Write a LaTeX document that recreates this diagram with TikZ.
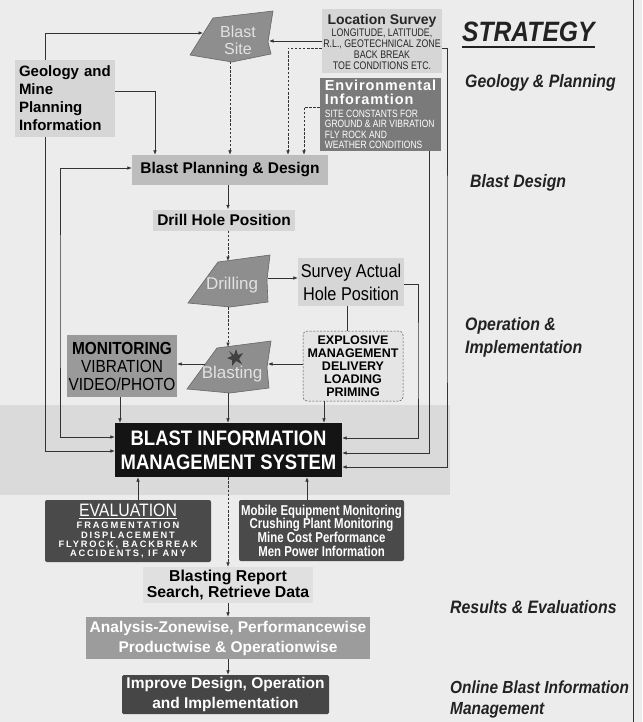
\documentclass[tikz,border=0pt]{standalone}
\usepackage{fontspec}
\setmainfont{Liberation Sans}
\newfontfamily\cond[FakeStretch=0.88]{Liberation Sans}
\newfontfamily\condn[FakeStretch=0.8]{Liberation Sans}
\newfontfamily\wsp[LetterSpace=20]{Liberation Sans}
\newfontfamily\wspb[LetterSpace=6]{Liberation Sans}
\usetikzlibrary{arrows.meta}
\newcommand\fsz[2]{\fontsize{#1}{#2}\selectfont}
\definecolor{page}{HTML}{ECECEC}
\definecolor{band}{HTML}{DADADA}
\definecolor{lncol}{HTML}{333333}
\definecolor{polyfill}{HTML}{8E8E8E}
\definecolor{polyedge}{HTML}{666666}
\definecolor{polytext}{HTML}{E2E2E2}
\definecolor{lightbox}{HTML}{D6D6D6}
\definecolor{midbox}{HTML}{BDBDBD}
\definecolor{envbox}{HTML}{7A7A7A}
\definecolor{monbox}{HTML}{9A9A9A}
\definecolor{darkbox}{HTML}{4A4A4A}
\definecolor{anabox}{HTML}{9C9C9C}
\definecolor{impbox}{HTML}{464646}
\definecolor{bimsbox}{HTML}{141414}
\definecolor{rtext}{HTML}{222222}
\newcommand\lsl[1]{{\condn\fsz{11}{11}#1}}
\newcommand\enl[1]{{\condn\fsz{10.6}{10.4}#1}}
\newcommand\ent[1]{{\wspb\bfseries\fsz{14.5}{12}#1}}
\newcommand\evl[1]{{\wsp\bfseries\fsz{9.3}{9.2}#1}}
\begin{document}
\begin{tikzpicture}[x=1pt,y=-1pt,
  box/.style={rectangle,inner sep=0pt,align=center},
  conn/.style={draw=lncol,line width=0.7pt},
  arr/.style={conn,-{Latex[length=4.5pt,width=3.6pt]}},
  arrb/.style={conn,{Latex[length=4.5pt,width=3.6pt]}-{Latex[length=4.5pt,width=3.6pt]}},
  darr/.style={arr,dash pattern=on 2.5pt off 1.6pt},
  poly/.style={fill=polyfill,draw=polyedge,line width=0.6pt},
  ghost/.style={rectangle,inner sep=0pt},
  rlab/.style={anchor=base west,inner sep=0pt,text=rtext,font=\cond\bfseries\itshape\fsz{18}{24}}]

\useasboundingbox (0,0) rectangle (642,722);
\fill[page] (0,0) rectangle (642,722);
\fill[band] (0,405) rectangle (450,495);
\draw[line width=1pt,lncol] (633,0) -- (633,722);

% polygons
\draw[poly] (213,18) -- (273,11) -- (268,42) -- (271,54) -- (232,62) -- (190,55) -- cycle;
\draw[poly] (218,262) -- (270,255) -- (267,280) -- (268,302) -- (230,307) -- (188,303) -- cycle;
\draw[poly] (217,348) -- (271,341) -- (267,367) -- (269,388) -- (230,393) -- (187,389) -- cycle;
\fill[black!75] (229,351) -- (234,355) -- (236,349) -- (238,355) -- (243,353) -- (239,359) -- (242,364) -- (236,361) -- (232,366) -- (232,360) -- (227,358) -- (232,356) -- cycle;

\node[ghost,minimum width=83pt,minimum height=51pt] (site) at (231,36.5) {};
\node[ghost,minimum width=82pt,minimum height=52pt] (drilling) at (229,281) {};
\node[ghost,minimum width=84pt,minimum height=52pt] (blasting) at (229,367) {};
\node[box,text=polytext,font=\fsz{16}{17}] (sitetxt) at (238,40) {Blast\\Site};
\node[box,text=polytext,font=\fsz{17}{18}] (drilltxt) at (232,285) {Drilling};
\node[box,text=polytext,font=\fsz{17}{18}] (blasttxt) at (232,374) {Blasting};

% boxes
\node[box,fill=lightbox,minimum width=100pt,minimum height=77pt,inner xsep=4pt,text width=92pt,align=left,font=\bfseries\fsz{15}{18}] (geo) at (65,98.5) {Geology and\\Mine\\Planning\\Information};
\node[box,fill=lightbox,minimum width=120pt,minimum height=64pt,text=black!85,font=\fsz{11}{11}] (loc) at (382,41.5)
  {{\bfseries\fsz{14}{16}Location Survey}\\[1pt]\lsl{LONGITUDE, LATITUDE,}\\\lsl{R.L., GEOTECHNICAL ZONE}\\\lsl{BACK BREAK}\\\lsl{TOE CONDITIONS ETC.}};
\node[box,fill=envbox,minimum width=121pt,minimum height=73pt,align=left,text=white,font=\fsz{10.6}{10.4}] (env) at (380.5,114.5)
  {\ent{Environmental}\\[2pt]\ent{Inforamtion}\\[2.5pt]\enl{SITE CONSTANTS FOR}\\\enl{GROUND \& AIR VIBRATION}\\\enl{FLY ROCK AND}\\\enl{WEATHER CONDITIONS}};
\node[box,fill=midbox,minimum width=196pt,minimum height=30pt,font=\bfseries\fsz{15.5}{18}] (plan) at (230,170) {Blast Planning \& Design};
\node[box,fill=lightbox,minimum width=142pt,minimum height=21pt,font=\bfseries\fsz{15.5}{18}] (drillpos) at (224,220) {Drill Hole Position};
\node[box,fill=lightbox,minimum width=106pt,minimum height=48pt,font=\cond\fsz{18.5}{23}] (survey) at (351,282) {Survey Actual\\Hole Position};
\node[box,fill=black!10,draw=black!70,dash pattern=on 2pt off 1.5pt,line width=0.5pt,rounded corners=4pt,minimum width=100pt,minimum height=70pt,font=\bfseries\fsz{12.5}{13}] (expl) at (353,366) {EXPLOSIVE\\MANAGEMENT\\DELIVERY\\LOADING\\PRIMING};
\node[box,fill=monbox,minimum width=110pt,minimum height=62pt,font=\cond\fsz{17.5}{18}] (mon) at (122,366) {{\bfseries MONITORING}\\VIBRATION\\VIDEO/PHOTO};
\node[box,fill=bimsbox,minimum width=227pt,minimum height=54pt,text=white,font=\cond\bfseries\fsz{21}{24}] (bims) at (228.5,450) {BLAST INFORMATION\\MANAGEMENT SYSTEM};
\node[box,fill=darkbox,rounded corners=2pt,minimum width=166pt,minimum height=62pt,text=white,font=\fsz{9.3}{9.2}] (eval) at (128,531)
  {{\cond\fsz{18}{19}\underline{EVALUATION}}\\[3pt]\evl{FRAGMENTATION}\\\evl{DISPLACEMENT}\\\evl{FLYROCK, BACKBREAK}\\\evl{ACCIDENTS, IF ANY}};
\node[box,fill=darkbox,rounded corners=2pt,minimum width=165pt,minimum height=61pt,text=white,font=\condn\bfseries\fsz{14.3}{13.7}] (mob) at (321.5,530.5)
  {Mobile Equipment Monitoring\\Crushing Plant Monitoring\\Mine Cost Performance\\Men Power Information};
\node[box,fill=black!12,minimum width=170pt,minimum height=36pt,font=\bfseries\fsz{15.8}{16.5}] (report) at (228,585) {Blasting Report\\Search, Retrieve Data};
\node[box,fill=anabox,minimum width=284pt,minimum height=42pt,text=white,font=\bfseries\fsz{15.5}{20}] (ana) at (228,638) {Analysis-Zonewise, Performancewise\\Productwise \& Operationwise};
\node[box,fill=impbox,rounded corners=1.5pt,minimum width=207pt,minimum height=39pt,text=white,font=\bfseries\fsz{15.5}{20}] (imp) at (225.5,694.5) {Improve Design, Operation\\and Implementation};

% right column
\node[rlab,font=\cond\bfseries\itshape\fsz{28}{30}] (strat) at (462,42) {STRATEGY};
\draw[line width=1.8pt,rtext] ([yshift=-5pt]strat.base west) -- ([yshift=-5pt]strat.base east);
\node[rlab] (r1) at (465,88) {Geology \& Planning};
\node[rlab] (r2) at (470,187) {Blast Design};
\node[rlab] (r3) at (465,330) {Operation \&};
\node[rlab] (r3b) at (465,353) {Implementation};
\node[rlab] (r4) at (450,613) {Results \& Evaluations};
\node[rlab,font=\cond\bfseries\itshape\fsz{17.5}{24}] (r5) at (450,693) {Online Blast Information};
\node[rlab,font=\cond\bfseries\itshape\fsz{17.5}{24}] (r5b) at (450,714) {Management};

% free ends on the polygons
\coordinate (siteL) at (203,33);
\coordinate (siteR) at (269,41);
\coordinate (siteB) at (230,62);
\coordinate (drillT) at (228,261);
\coordinate (drillB) at (228,307);
\coordinate (drillR) at (268,278);
\coordinate (blastT) at (228,347);
\coordinate (blastR) at (268,364);
\coordinate (blastL) at (205,364);
\coordinate (blastB) at (228,393);

% connectors
\draw[arr] (45,0 |- geo.north) |- (siteL);
\draw[arr] (45,0 |- geo.south) |- (bims.west |- 0,451);
\draw[arrb] (plan.west |- 0,168) -| (60,300) |- (bims.west |- 0,437);
\draw[arr] (geo.east |- 0,91) -| (plan.north -| 155,0);
\draw[darr] (siteB) -- (plan.north -| siteB);
\draw[arr] (loc.west |- siteR) -- (siteR);
\draw[darr] (loc.west |- 0,48) -| (plan.north -| 288,0);
\draw[darr] (env.west |- 0,107) -| (plan.north -| 304,0);
\draw[arr] (loc.east |- 0,48) -| (447,300) |- (bims.east |- 0,467);
\draw[arr] (env.south -| 429,0) |- (bims.east |- 0,453);
\draw[arr] (survey.east |- 0,284) -| (418,360) |- (bims.east |- 0,438);
\draw[arr] (plan.south -| 228,0) -- (drillpos.north -| 228,0);
\draw[darr] (drillpos.south -| 228,0) -- (drillT);
\draw[arr] (drillR) -- (survey.west |- drillR);
\draw[darr] (drillB) -- (blastT);
\draw[conn] (survey.south -| 347,0) -- (expl.north -| 347,0);
\draw[arr] (expl.west |- blastR) -- (blastR);
\draw[arr] (blastL) -- (mon.east |- blastL);
\draw[arr] (mon.south -| 120,0) -- (bims.north -| 120,0);
\draw[arr] (blastB) -- (bims.north -| blastB);
\draw[arr] (expl.south -| 324,0) -- (bims.north -| 324,0);
\draw[arr] (eval.north -| 138,0) -- (bims.south -| 138,0);
\draw[arr] (mob.north -| 307,0) -- (bims.south -| 307,0);
\draw[darr] (bims.south -| 228,0) -- (report.north -| 228,0);
\draw[arr] (report.south -| 228,0) -- (ana.north -| 228,0);
\draw[arr] (ana.south -| 228,0) -- (imp.north -| 228,0);
\end{tikzpicture}
\end{document}
